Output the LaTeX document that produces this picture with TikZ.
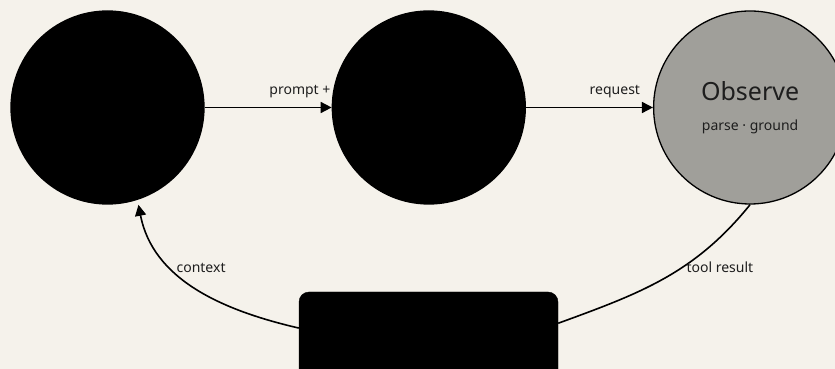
\documentclass[tikz,border=0pt]{standalone}
\usepackage{fontspec}
\setmainfont{Noto Sans}
\usetikzlibrary{arrows.meta,positioning}
\definecolor{paper}{HTML}{F5F2EB}
\definecolor{stone}{HTML}{A09F9A}
\definecolor{ink}{HTML}{1E1E1E}
\tikzset{
  stage/.style={
    circle,
    draw=black,
    line width=1.3pt,
    fill=black,
    minimum size=193pt,
    inner sep=0pt
  },
  observed/.style={
    stage,
    fill=stone,
    text=ink,
    align=center,
    font=\fontsize{14}{29.5}\selectfont
  },
  toolbox/.style={
    draw=black,
    fill=black,
    rounded corners=10pt,
    minimum width=259pt,
    minimum height=132pt
  },
  flow/.style={
    -{Triangle[length=11pt,width=11pt]},
    draw=black,
    line width=1.6pt
  },
  feedback/.style={
    draw=black,
    line width=1.6pt
  },
  tag/.style={
    text=ink,
    font=\fontsize{14}{17}\selectfont
  }
}

\begin{document}
\begin{tikzpicture}[x=1pt,y=1pt]
  \useasboundingbox (0,0) rectangle (835,369);
  \fill[paper] (0,0) rectangle (835,369);
  \clip (0,0) rectangle (835,369);

  \node[stage] (reason) at (107.5,261.5) {};

  \node[stage, right=127pt of reason] (act) {};

  \node[observed, right=127pt of act] (observe)
    {{\fontsize{25}{29}\selectfont Observe}\\parse · ground};

  \node[toolbox] (env) at (428.5,11) {};

  \draw[flow] (reason.east) -- node[tag, pos=0.75, above=6pt] {prompt +} (act.west);
  \draw[flow] (act.east) -- node[tag, pos=0.7, above=6pt] {request} (observe.west);
  \draw[feedback] (observe.south) to[out=-129, in=20]
    node[tag, pos=0.4, anchor=west] {tool result} (env.15);
  \draw[flow, shorten >=5pt] (env.167) to[out=167, in=-79]
    node[tag, pos=0.64, anchor=west] {context} (reason.-72);
\end{tikzpicture}
\end{document}
